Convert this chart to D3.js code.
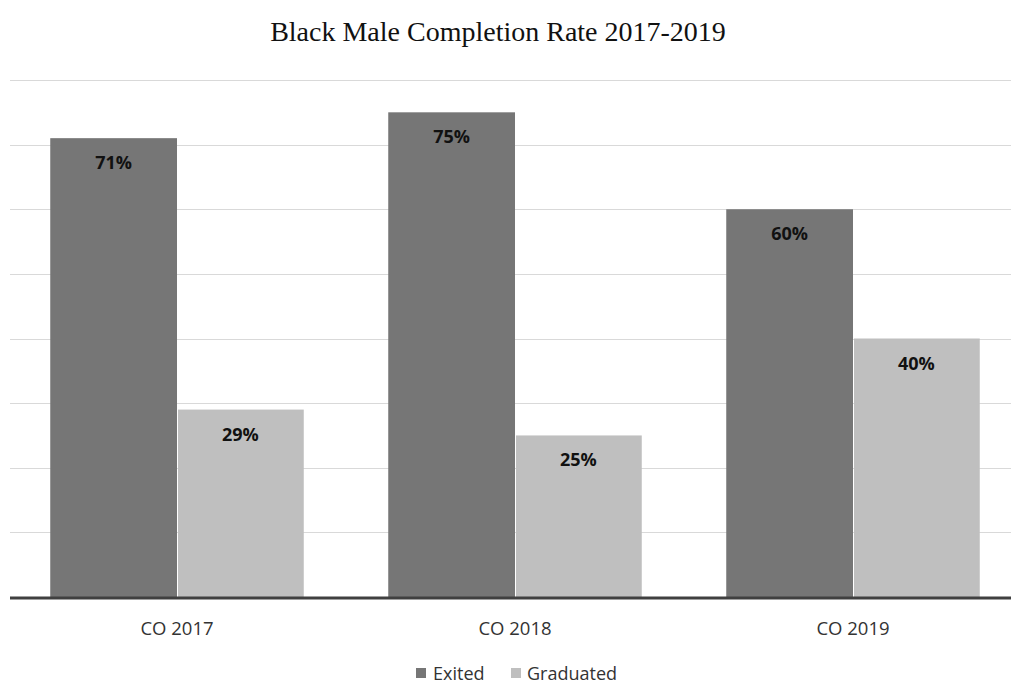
<!DOCTYPE html>
<html>
<head>
<meta charset="utf-8">
<script src="https://cdn.jsdelivr.net/npm/d3@7"></script>
<style>
  html, body { margin: 0; padding: 0; background: #ffffff; }
  svg { display: block; }
</style>
</head>
<body>
<script>
// Chart data
const categories = ["CO 2017", "CO 2018", "CO 2019"];
const seriesNames = ["Exited", "Graduated"];
const exited = [71, 75, 60];
const graduated = [29, 25, 40];
const gridTicks = [0, 10, 20, 30, 40, 50, 60, 70, 80];
const titleText = "Black Male Completion Rate 2017-2019";

const W = 1011, H = 687;
const colors = { Exited: "#767676", Graduated: "#bfbfbf" };

const svg = d3.select("body").append("svg")
  .attr("width", W).attr("height", H);

// Title
svg.append("text")
  .attr("x", 498).attr("y", 41)
  .attr("text-anchor", "middle")
  .attr("font-family", "'Liberation Serif', 'DejaVu Serif', serif")
  .attr("font-size", 28)
  .attr("fill", "#111")
  .text(titleText);

// Scales
const x0 = d3.scaleBand().domain(categories).range([8, 1022])
  .paddingInner(0.25).paddingOuter(0.125);
const x1 = d3.scaleBand().domain(seriesNames).range([0, x0.bandwidth()]).padding(0);
const y = d3.scaleLinear().domain([0, 80]).range([597, 80]);

// Gridlines
svg.append("g").selectAll("line")
  .data(gridTicks.filter(d => d > 0))
  .join("line")
  .attr("x1", 10).attr("x2", W)
  .attr("y1", d => Math.round(y(d)) + 0.5)
  .attr("y2", d => Math.round(y(d)) + 0.5)
  .attr("stroke", "#d9d9d9").attr("stroke-width", 1.2);

// Bars
const rows = categories.map((c, i) => ({
  cat: c,
  values: [{ key: "Exited", v: exited[i] }, { key: "Graduated", v: graduated[i] }]
}));

const groups = svg.append("g").selectAll("g")
  .data(rows).join("g")
  .attr("transform", d => `translate(${x0(d.cat)},0)`);

groups.selectAll("rect")
  .data(d => d.values).join("rect")
  .attr("x", d => x1(d.key) + (d.key === "Graduated" ? 1 : 0))
  .attr("width", d => x1.bandwidth() - (d.key === "Graduated" ? 1 : 0))
  .attr("y", d => y(d.v))
  .attr("height", d => y(0) - y(d.v))
  .attr("fill", d => colors[d.key]);

// Value labels
groups.selectAll("text.val")
  .data(d => d.values).join("text")
  .attr("class", "val")
  .attr("x", d => x1(d.key) + x1.bandwidth() / 2)
  .attr("y", d => y(d.v) + 31)
  .attr("text-anchor", "middle")
  .attr("font-family", "'Open Sans', 'Liberation Sans', sans-serif")
  .attr("font-weight", "bold")
  .attr("font-size", 18)
  .attr("fill", "#111")
  .text(d => d.v + "%");

// Baseline axis
svg.append("line")
  .attr("x1", 10).attr("x2", W)
  .attr("y1", y(0) + 1).attr("y2", y(0) + 1)
  .attr("stroke", "#404040").attr("stroke-width", 3);

// Category labels
svg.append("g").selectAll("text")
  .data(categories).join("text")
  .attr("x", d => x0(d) + x0.bandwidth() / 2)
  .attr("y", 635)
  .attr("text-anchor", "middle")
  .attr("font-family", "'Open Sans', 'Liberation Sans', sans-serif")
  .attr("font-size", 18.5)
  .attr("fill", "#333")
  .text(d => d);

// Legend
const legendItems = [
  { key: "Exited", sx: 416, tx: 433 },
  { key: "Graduated", sx: 511, tx: 527 }
];
const lg = svg.append("g");
lg.selectAll("rect").data(legendItems).join("rect")
  .attr("x", d => d.sx).attr("y", 668)
  .attr("width", 10).attr("height", 10)
  .attr("fill", d => colors[d.key]);
lg.selectAll("text").data(legendItems).join("text")
  .attr("x", d => d.tx).attr("y", 680)
  .attr("font-family", "'Open Sans', 'Liberation Sans', sans-serif")
  .attr("font-size", 18)
  .attr("fill", "#333")
  .text(d => d.key);
</script>
</body>
</html>
